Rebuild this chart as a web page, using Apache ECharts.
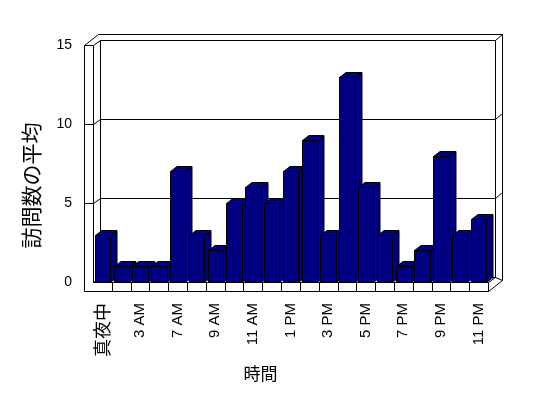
<!DOCTYPE html>
<html>
<head>
<meta charset="utf-8">
<script src="https://cdn.jsdelivr.net/npm/echarts@6/dist/echarts.min.js"></script>
<style>
  html, body { margin: 0; padding: 0; background: #fff; }
  #chart { width: 548px; height: 398px; }
</style>
</head>
<body>
<div id="chart"></div>
<script>
// hours of the day (a few early hours have no data)
const hours = ["真夜中", "1 AM", "3 AM", "5 AM", "7 AM", "8 AM", "9 AM", "10 AM", "11 AM", "正午",
  "1 PM", "2 PM", "3 PM", "4 PM", "5 PM", "6 PM", "7 PM", "8 PM", "9 PM", "10 PM", "11 PM"];
// average visits per hour
const avgVisits = [3, 1, 1, 1, 7, 3, 2, 5, 6, 5, 7, 9, 3, 13, 6, 3, 1, 2, 8, 3, 4];
const yTicks = [0, 5, 10, 15];

const DX = 7, DY = -5.5;     // depth of the 3d box
const WALL = 9, FLOOR = 9;   // wall / floor slab thickness
const BAR_DX = 6.5, BAR_DY = -5;
const NAVY = "#000080";
const LATIN = "'Liberation Sans', Arial, sans-serif";
const CJK = "'Noto Sans CJK JP', sans-serif";

const chart = echarts.init(document.getElementById("chart"));

function px(v) { return Math.round(v) + 0.5; }

function seg(x1, y1, x2, y2) {
  return {
    type: "line",
    shape: { x1: px(x1), y1: px(y1), x2: px(x2), y2: px(y2) },
    style: { stroke: "#000", lineWidth: 1 },
    silent: true,
  };
}

// walls, floor and gridlines of the 3d frame
function renderFrame(params, api) {
  const cs = params.coordSys;
  const L = cs.x, R = cs.x + cs.width, T = cs.y, B = cs.y + cs.height;
  const band = api.size([1, 0])[0];
  const kids = [];
  // outer outline
  kids.push(seg(L - WALL, T, L - WALL, B + FLOOR));
  kids.push(seg(L - WALL, B + FLOOR, R, B + FLOOR));
  kids.push(seg(R, B + FLOOR, R + 2 * DX, B + FLOOR + 2 * DY));
  kids.push(seg(R + 2 * DX, B + FLOOR + 2 * DY, R + 2 * DX, T + 2 * DY));
  kids.push(seg(L - WALL + 2 * DX, T + 2 * DY, R + 2 * DX, T + 2 * DY));
  kids.push(seg(L - WALL, T, L - WALL + 2 * DX, T + 2 * DY));
  // left wall front and top
  kids.push(seg(L - WALL, T, L, T));
  kids.push(seg(L, T, L, B));
  kids.push(seg(L, T, L + DX, T + DY));
  // back wall
  kids.push(seg(L + DX, T + DY, R + DX, T + DY));
  kids.push(seg(R + DX, T + DY, R + 2 * DX, T + 2 * DY));
  kids.push(seg(L + DX, T + DY, L + DX, B + DY));
  kids.push(seg(R + DX, T + DY, R + DX, B + DY));
  // floor
  kids.push(seg(L, B, L + DX, B + DY));
  kids.push(seg(L + DX, B + DY, R + DX, B + DY));
  kids.push(seg(L, B, R, B));
  kids.push(seg(R, B, R + DX, B + DY));
  kids.push(seg(R + DX, B + DY, R + 2 * DX, B + FLOOR + 2 * DY));
  // category dividers on the floor front
  for (let k = 1; k <= hours.length; k++) {
    const x = L + k * band;
    kids.push(seg(x, B, x, B + FLOOR));
  }
  // gridlines
  yTicks.slice(1, -1).forEach(function (v) {
    const y = api.coord([0, v])[1];
    kids.push(seg(L - WALL, y, L, y));
    kids.push(seg(L, y, L + DX, y + DY));
    kids.push(seg(L + DX, y + DY, R + DX, y + DY));
    kids.push(seg(R + DX, y + DY, R + 2 * DX, y + 2 * DY));
  });
  return { type: "group", children: kids };
}

function renderBar(params, api) {
  const top = api.coord([api.value(0), api.value(1)]);
  const base = api.coord([api.value(0), 0]);
  const w = api.size([1, 0])[0] * 0.82;
  const x0 = Math.round(top[0] - w / 2) + 0.5;
  const x1 = Math.round(top[0] + w / 2) + 0.5;
  const yt = Math.round(top[1]) + 0.5;
  const yb = Math.round(base[1]) + 0.5;
  const st = { fill: NAVY, stroke: "#000", lineWidth: 1 };
  return {
    type: "group",
    children: [
      { type: "polygon", shape: { points: [[x1, yt], [x1 + BAR_DX, yt + BAR_DY], [x1 + BAR_DX, yb + BAR_DY], [x1, yb]] }, style: st },
      { type: "polygon", shape: { points: [[x0, yt], [x1, yt], [x1 + BAR_DX, yt + BAR_DY], [x0 + BAR_DX, yt + BAR_DY]] }, style: st },
      { type: "rect", shape: { x: x0, y: yt, width: x1 - x0, height: yb - yt }, style: st },
    ],
  };
}

const option = {
  animation: false,
  backgroundColor: "#fff",
  grid: { left: 93, right: 60, top: 45, bottom: 116 },
  xAxis: {
    type: "category",
    data: hours,
    axisLine: { show: false },
    axisTick: { show: false },
    splitLine: { show: false },
    axisLabel: {
      interval: 1,
      rotate: 90,
      margin: 21,
      color: "#000",
      fontFamily: LATIN,
      fontSize: 15,
      formatter: function (v) {
        return /[A-Z]/.test(v) ? v : "{j|" + v + "}";
      },
      rich: { j: { fontFamily: CJK, fontSize: 18, color: "#000" } },
    },
    name: "時間",
    nameLocation: "middle",
    nameGap: 83,
    nameTextStyle: { fontFamily: CJK, fontSize: 17, color: "#000", padding: [0, 60, 0, 0] },
  },
  yAxis: {
    type: "value",
    min: 0,
    max: 15,
    interval: 5,
    axisLine: { show: false },
    axisTick: { show: false },
    splitLine: { show: false },
    axisLabel: { margin: 21, color: "#000", fontFamily: LATIN, fontSize: 14 },
    name: "訪問数の平均",
    nameLocation: "middle",
    nameRotate: 90,
    nameGap: 51,
    nameTextStyle: { fontFamily: CJK, fontSize: 21, color: "#000", padding: [0, 44, 0, 0] },
  },
  series: [
    {
      type: "custom",
      renderItem: renderFrame,
      data: [[0, 0]],
      silent: true,
      z: 1,
    },
    {
      type: "custom",
      renderItem: renderBar,
      data: avgVisits.map(function (v, i) { return [i, v]; }),
      z: 2,
    },
  ],
};

chart.setOption(option);
</script>
</body>
</html>
